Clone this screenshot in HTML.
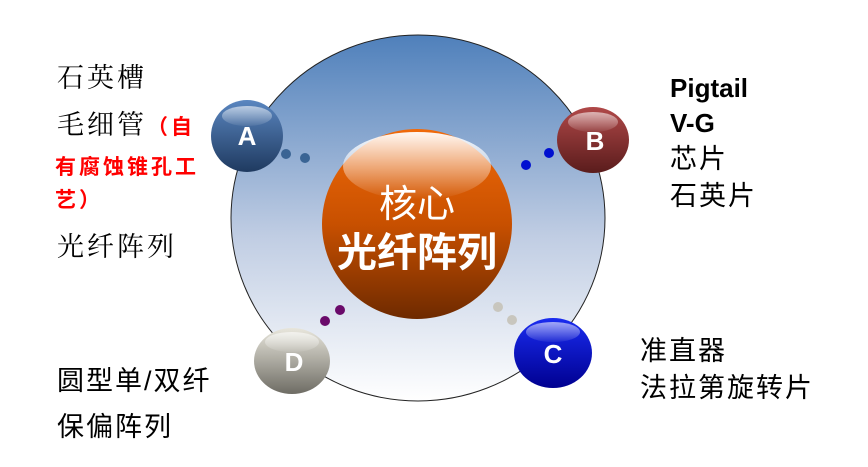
<!DOCTYPE html>
<html><head><meta charset="utf-8"><style>
html,body{margin:0;padding:0;background:#fff;}
body{width:868px;height:467px;overflow:hidden;position:relative;}
.t{position:absolute;white-space:nowrap;line-height:1;}
.s{font-family:"Liberation Serif","Noto Serif CJK SC",serif;font-size:27px;letter-spacing:3px;color:#000;}
.r{font-family:"Liberation Sans","Noto Sans CJK SC",sans-serif;font-size:21px;letter-spacing:3px;color:#f00;font-weight:bold;}
.a{font-family:"Liberation Sans","Noto Sans CJK SC",sans-serif;font-size:27px;color:#000;letter-spacing:2px;}
.b{font-family:"Liberation Sans",sans-serif;font-size:26px;font-weight:bold;color:#000;}
</style></head><body>
<svg width="868" height="467" style="position:absolute;left:0;top:0">
<defs>
<linearGradient id="bg" x1="0" y1="0" x2="0" y2="1"><stop offset="0" stop-color="#4f80bb"/><stop offset="0.55" stop-color="#c0cde3"/><stop offset="1" stop-color="#ffffff"/></linearGradient>
<linearGradient id="core" x1="0" y1="0" x2="0" y2="1"><stop offset="0" stop-color="#f06a0a"/><stop offset="0.5" stop-color="#c85000"/><stop offset="1" stop-color="#6e2a00"/></linearGradient>
<linearGradient id="hl" x1="0" y1="0" x2="0" y2="1"><stop offset="0" stop-color="#fff" stop-opacity="1"/><stop offset="1" stop-color="#fff" stop-opacity="0.1"/></linearGradient>
<linearGradient id="hl2" x1="0" y1="0" x2="0" y2="1"><stop offset="0" stop-color="#fff" stop-opacity="0.95"/><stop offset="1" stop-color="#fff" stop-opacity="0"/></linearGradient>
<linearGradient id="gA" x1="0" y1="0" x2="0" y2="1"><stop offset="0" stop-color="#5a86c0"/><stop offset="1" stop-color="#1f3a60"/></linearGradient>
<linearGradient id="gB" x1="0" y1="0" x2="0" y2="1"><stop offset="0" stop-color="#b04848"/><stop offset="1" stop-color="#5a1c1c"/></linearGradient>
<linearGradient id="gC" x1="0" y1="0" x2="0" y2="1"><stop offset="0" stop-color="#1a2cf0"/><stop offset="1" stop-color="#000090"/></linearGradient>
<linearGradient id="gD" x1="0" y1="0" x2="0" y2="1"><stop offset="0" stop-color="#e8e6dc"/><stop offset="1" stop-color="#6e6c64"/></linearGradient>
</defs>
<ellipse cx="418" cy="218" rx="187" ry="183" fill="url(#bg)" stroke="#222" stroke-width="1"/>
<circle cx="417" cy="224" r="95" fill="url(#core)"/>
<ellipse cx="417" cy="166" rx="74" ry="34" fill="url(#hl2)"/>
<text x="417" y="217" text-anchor="middle" font-family="Liberation Sans,Noto Sans CJK SC,sans-serif" font-size="38" fill="#fff">核心</text>
<text x="417" y="266" text-anchor="middle" font-family="Liberation Sans,Noto Sans CJK SC,sans-serif" font-size="40" font-weight="bold" fill="#fff">光纤阵列</text>
<circle cx="286" cy="154" r="5" fill="#3a6494"/><circle cx="305" cy="158" r="5" fill="#3a6494"/>
<circle cx="526" cy="165" r="5" fill="#0010d0"/><circle cx="549" cy="153" r="5" fill="#0010d0"/>
<circle cx="498" cy="307" r="5" fill="#c8c6be"/><circle cx="512" cy="320" r="5" fill="#c8c6be"/>
<circle cx="325" cy="321" r="5" fill="#6a0a6a"/><circle cx="340" cy="310" r="5" fill="#6a0a6a"/>
<g font-family="Liberation Sans,sans-serif" font-weight="bold" font-size="26" fill="#fff" text-anchor="middle">
<ellipse cx="247" cy="136" rx="36" ry="36" fill="url(#gA)"/><ellipse cx="247" cy="116" rx="25" ry="10" fill="url(#hl)" opacity="0.6"/><text x="247" y="145">A</text>
<ellipse cx="593" cy="140" rx="36" ry="33" fill="url(#gB)"/><ellipse cx="593" cy="122" rx="25" ry="10" fill="url(#hl)" opacity="0.6"/><text x="595" y="150">B</text>
<ellipse cx="553" cy="353" rx="39" ry="35" fill="url(#gC)"/><ellipse cx="553" cy="332" rx="27" ry="10" fill="url(#hl)" opacity="0.6"/><text x="553" y="363">C</text>
<ellipse cx="292" cy="361" rx="38" ry="33" fill="url(#gD)"/><ellipse cx="292" cy="342" rx="27" ry="10" fill="url(#hl)" opacity="0.6"/><text x="294" y="371">D</text>
</g>
</svg>
<div class="t s" style="left:57px;top:65px">石英槽</div>
<div class="t s" style="left:57px;top:112px">毛细管<span class="r">（自</span></div>
<div class="t r" style="left:55px;top:157px">有腐蚀锥孔工</div>
<div class="t r" style="left:55px;top:190px">艺）</div>
<div class="t s" style="left:57px;top:234px">光纤阵列</div>
<div class="t b" style="left:670px;top:75px">Pigtail</div>
<div class="t b" style="left:670px;top:110px">V-G</div>
<div class="t a" style="left:670px;top:146px">芯片</div>
<div class="t a" style="left:670px;top:183px">石英片</div>
<div class="t a" style="left:640px;top:338px">准直器</div>
<div class="t a" style="left:640px;top:375px">法拉第旋转片</div>
<div class="t a" style="left:57px;top:368px">圆型单/双纤</div>
<div class="t a" style="left:57px;top:414px">保偏阵列</div>
</body></html>
